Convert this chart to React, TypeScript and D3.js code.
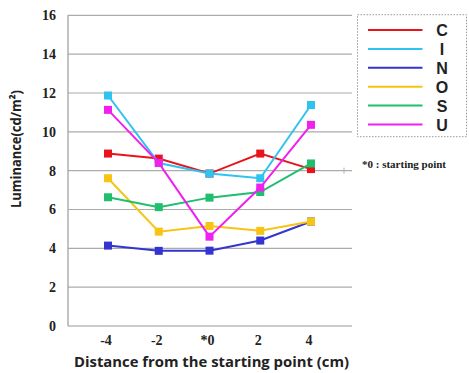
import React from "react";
import * as d3 from "d3";

// Distances from the starting point (cm); "*0" marks the starting point
const categories = ["-4", "-2", "*0", "2", "4"];
const yTicks = [0, 2, 4, 6, 8, 10, 12, 14, 16];

const seriesNames = ["C", "I", "N", "O", "S", "U"];
const seriesColors = ["#e8141c", "#2fc3f0", "#3434d0", "#f8c414", "#1fbf6e", "#f020ee"];

const valuesC = [8.88, 8.62, 7.85, 8.88, 8.08];
const valuesI = [11.87, 8.39, 7.85, 7.61, 11.38];
const valuesN = [4.14, 3.87, 3.88, 4.4, 5.38];
const valuesO = [7.61, 4.86, 5.15, 4.9, 5.38];
const valuesS = [6.63, 6.12, 6.61, 6.9, 8.37];
const valuesU = [11.13, 8.4, 4.6, 7.13, 10.36];

const seriesValues = [valuesC, valuesI, valuesN, valuesO, valuesS, valuesU];

const W = 469;
const H = 373;
const plotLeft = 68;
const plotRight = 352;
const plotTop = 15.3;
const plotBottom = 326;

export default function App() {
  const x = d3.scalePoint<string>().domain(categories).range([108, 311]);
  const y = d3.scaleLinear().domain([0, 16]).range([plotBottom, plotTop]);

  const line = d3
    .line<number>()
    .x((_, i) => x(categories[i]) as number)
    .y((d) => y(d));

  const serif = "'Liberation Serif', 'Times New Roman', serif";
  const sans = "'Open Sans', 'Noto Sans', sans-serif";
  const arial = "'Liberation Sans', Arial, sans-serif";

  const legendRowY = (i: number) => 30 + i * 18.9;

  return (
    <svg
      width={W}
      height={H}
      style={{ position: "absolute", left: 0, top: 0, background: "#fff" }}
    >
      {/* horizontal gridlines */}
      {yTicks.map((t) => (
        <line
          key={"g" + t}
          x1={plotLeft}
          x2={plotRight}
          y1={y(t)}
          y2={y(t)}
          stroke={t === 0 ? "#9a9a9a" : "#ababab"}
          strokeWidth={1.2}
        />
      ))}
      <line x1={344} x2={344} y1={y(8) - 3} y2={y(8) + 3} stroke="#b0b0b0" strokeWidth={1} />
      {/* left axis */}
      <line x1={plotLeft} x2={plotLeft} y1={plotTop} y2={plotBottom} stroke="#9a9a9a" strokeWidth={1.2} />

      {/* y tick labels */}
      {yTicks.map((t) => (
        <text
          key={"yl" + t}
          x={56}
          y={y(t) + 5}
          textAnchor="end"
          fontFamily={serif}
          fontWeight="bold"
          fontSize={14}
          fill="#222"
        >
          {t}
        </text>
      ))}

      {/* x tick labels */}
      {categories.map((c) => (
        <text
          key={"xl" + c}
          x={(x(c) as number) - 2}
          y={345}
          textAnchor="middle"
          fontFamily={serif}
          fontWeight="bold"
          fontSize={14}
          fill="#222"
        >
          {c}
        </text>
      ))}

      {/* axis titles */}
      <text
        x={74}
        y={367}
        fontFamily={sans}
        fontWeight="bold"
        fontSize={14.5}
        textLength={275}
        lengthAdjust="spacingAndGlyphs"
        fill="#222"
      >
        Distance from the starting point (cm)
      </text>
      <text
        transform="translate(21,208) rotate(-90)"
        fontFamily={sans}
        fontWeight="bold"
        fontSize={14}
        textLength={118}
        lengthAdjust="spacingAndGlyphs"
        fill="#222"
      >
        Luminance(cd/m²)
      </text>

      {/* series lines and square markers */}
      {seriesValues.map((vals, s) => (
        <g key={"s" + s}>
          <path d={line(vals) || ""} fill="none" stroke={seriesColors[s]} strokeWidth={2} />
          {vals.map((v, i) => (
            <rect
              key={i}
              x={(x(categories[i]) as number) - 4}
              y={y(v) - 4}
              width={8}
              height={8}
              fill={seriesColors[s]}
            />
          ))}
        </g>
      ))}

      {/* legend */}
      <rect
        x={357.5}
        y={14.7}
        width={109}
        height={122}
        fill="#fff"
        stroke="#999"
        strokeWidth={1}
        strokeDasharray="1.5,1.5"
      />
      {seriesNames.map((n, i) => (
        <g key={"lg" + n}>
          <line
            x1={368}
            x2={422.5}
            y1={legendRowY(i)}
            y2={legendRowY(i)}
            stroke={seriesColors[i]}
            strokeWidth={2}
          />
          <text
            x={442}
            y={legendRowY(i) + 6}
            textAnchor="middle"
            fontFamily={arial}
            fontWeight="bold"
            fontSize={16}
            fill="#222"
          >
            {n}
          </text>
        </g>
      ))}

      <text x={362} y={168} fontFamily={serif} fontWeight="bold" fontSize={11} fill="#222">
        *0 : starting point
      </text>
    </svg>
  );
}
